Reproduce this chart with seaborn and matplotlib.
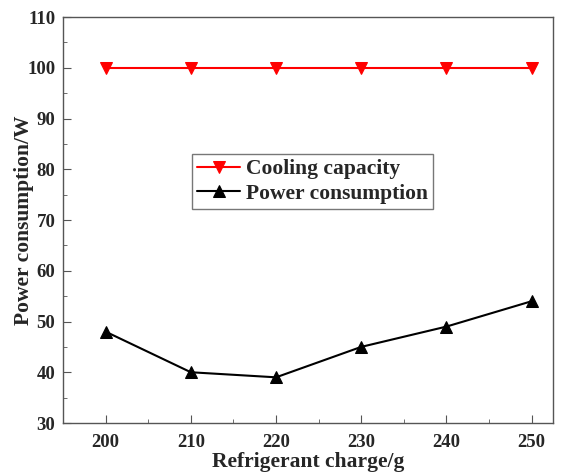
import matplotlib
matplotlib.use("Agg")
import matplotlib.pyplot as plt
import seaborn as sns
import pandas as pd
from matplotlib.ticker import MultipleLocator

charge = [200, 210, 220, 230, 240, 250]
cooling = [100, 100, 100, 100, 100, 100]
power = [48, 40, 39, 45, 49, 54]

sns.set_style("ticks")
plt.rcParams['font.family'] = ['Liberation Serif', 'DejaVu Serif']
plt.rcParams['font.weight'] = 'bold'

df = pd.DataFrame({"charge": charge, "cooling": cooling, "power": power})

fig = plt.figure(figsize=(5.64, 4.75), dpi=100)
ax = fig.add_axes([63/564, 1-423/475, 490/564, 406/475])

sns.lineplot(data=df, x="charge", y="cooling", ax=ax, color="red", marker="v",
             markersize=9, markeredgecolor="red", linewidth=1.5, label="Cooling capacity")
sns.lineplot(data=df, x="charge", y="power", ax=ax, color="black", marker="^",
             markersize=9, markeredgecolor="black", linewidth=1.5, label="Power consumption")

ax.set_xlim(195, 252.5)
ax.set_ylim(30, 110)
ax.xaxis.set_major_locator(MultipleLocator(10))
ax.xaxis.set_minor_locator(MultipleLocator(5))
ax.yaxis.set_major_locator(MultipleLocator(10))
ax.yaxis.set_minor_locator(MultipleLocator(5))
ax.tick_params(which='both', direction='in', color='#555555', labelsize=13.5)
ax.tick_params(which='major', length=6)
ax.tick_params(which='minor', length=3)
ax.tick_params(axis='x', which='major', pad=8)
ax.tick_params(axis='y', which='major', pad=5.5)
for lab in ax.get_xticklabels() + ax.get_yticklabels():
    lab.set_fontweight('bold')
for s in ax.spines.values():
    s.set_visible(True)
    s.set_color('#555555')
    s.set_linewidth(1.0)

ax.set_xlabel("Refrigerant charge/g", fontsize=15.5, fontweight='bold', va='center')
ax.set_ylabel("Power consumption/W", fontsize=15.5, fontweight='bold', va='center')
ax.xaxis.set_label_coords(0.5, (423-462)/406)
ax.yaxis.set_label_coords((24-63)/490, 0.5)

leg = ax.legend(loc='upper left', bbox_to_anchor=((192-63)/490, (423-154)/406),
                borderaxespad=0, fontsize=15.5,
                frameon=True, fancybox=False, edgecolor='#555555',
                handlelength=2.0, borderpad=0.25, labelspacing=0.2, handletextpad=0.25)
leg.get_frame().set_linewidth(1.0)
for t in leg.get_texts():
    t.set_fontweight('bold')

fig.savefig("out.png", dpi=100)
